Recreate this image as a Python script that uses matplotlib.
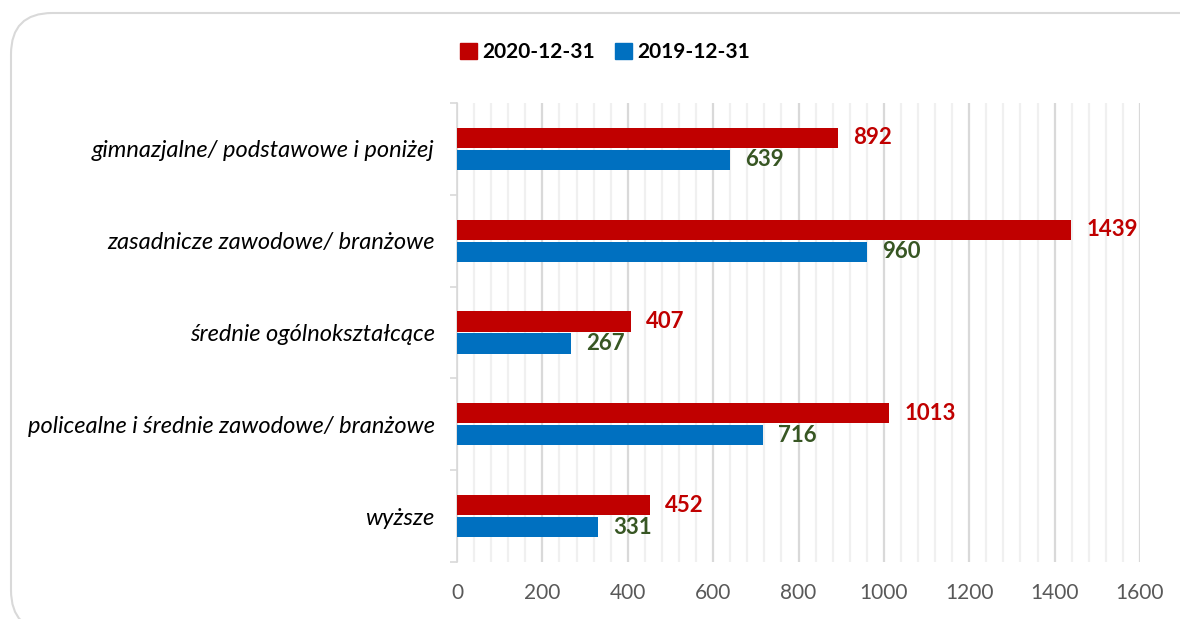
import matplotlib

matplotlib.use("Agg")
import matplotlib.pyplot as plt
from matplotlib.patches import FancyBboxPatch, Patch
from matplotlib.ticker import MultipleLocator

plt.rcParams["font.family"] = ["Lato", "DejaVu Sans"]

categories = [
    "gimnazjalne/ podstawowe i poniżej",
    "zasadnicze zawodowe/ branżowe",
    "średnie ogólnokształcące",
    "policealne i średnie zawodowe/ branżowe",
    "wyższe",
]
values_2020 = [892, 1439, 407, 1013, 452]
values_2019 = [639, 960, 267, 716, 331]
series_labels = ["2020-12-31", "2019-12-31"]

RED = "#C00000"
BLUE = "#0070C0"
GREEN = "#375623"

fig = plt.figure(figsize=(11.8, 6.19), dpi=100)

# rounded frame around the chart (cropped at right and bottom like the source)
frame = FancyBboxPatch(
    (11 / 1180, 0.0 - 0.02), 1.2, 1 - 13 / 619 + 0.02,
    boxstyle="round,pad=0,rounding_size=0.035",
    transform=fig.transFigure, facecolor="none", edgecolor="#d9d9d9",
    linewidth=1.5, zorder=-1, mutation_aspect=1180 / 619,
)
fig.patches.append(frame)

ax = fig.add_axes([457 / 1180, 1 - 562 / 619, (1140 - 457) / 1180, (562 - 103) / 619])
ax.set_facecolor("none")

ypos = list(range(len(categories)))
h = 0.22
off = 0.12
ax.barh([y - off for y in ypos], values_2020, height=h, color=RED, zorder=3, label=series_labels[0])
ax.barh([y + off for y in ypos], values_2019, height=h, color=BLUE, zorder=3, label=series_labels[1])

for y, v in zip(ypos, values_2020):
    ax.annotate(str(v), (v, y - off), xytext=(11, 0), textcoords="offset points",
                va="center", ha="left", color=RED, fontsize=16, fontweight="bold")
for y, v in zip(ypos, values_2019):
    ax.annotate(str(v), (v, y + off), xytext=(11, 0), textcoords="offset points",
                va="center", ha="left", color=GREEN, fontsize=16, fontweight="bold")

ax.set_xlim(0, 1600)
ax.set_ylim(len(categories) - 0.5, -0.5)
ax.xaxis.set_major_locator(MultipleLocator(200))
ax.xaxis.set_minor_locator(MultipleLocator(40))
ax.grid(axis="x", which="major", color="#d9d9d9", linewidth=1.6, zorder=0)
ax.grid(axis="x", which="minor", color="#f0f0f0", linewidth=1.6, zorder=0)
ax.tick_params(axis="x", which="both", length=0, pad=15, labelsize=15, labelcolor="#595959")

ax.set_yticks(ypos)
ax.set_yticklabels(categories, fontstyle="italic", fontsize=17, color="#000000")
ax.set_yticks([y - 0.5 for y in range(len(categories) + 1)], minor=True)
ax.tick_params(axis="y", which="major", length=0, pad=16)
ax.tick_params(axis="y", which="minor", length=5, color="#d9d9d9", width=1.2)

for side in ["top", "right", "bottom"]:
    ax.spines[side].set_visible(False)
ax.spines["left"].set_color("#d9d9d9")
ax.spines["left"].set_linewidth(1.2)

handles = [Patch(color=RED), Patch(color=BLUE)]
fig.legend(handles, series_labels, loc="center", bbox_to_anchor=(605 / 1180, 1 - 52 / 619),
           ncol=2, frameon=False, handlelength=0.8, handleheight=0.8, handletextpad=0.25,
           columnspacing=1.0, prop={"weight": "bold", "size": 15})

fig.savefig("out.png", dpi=100)
